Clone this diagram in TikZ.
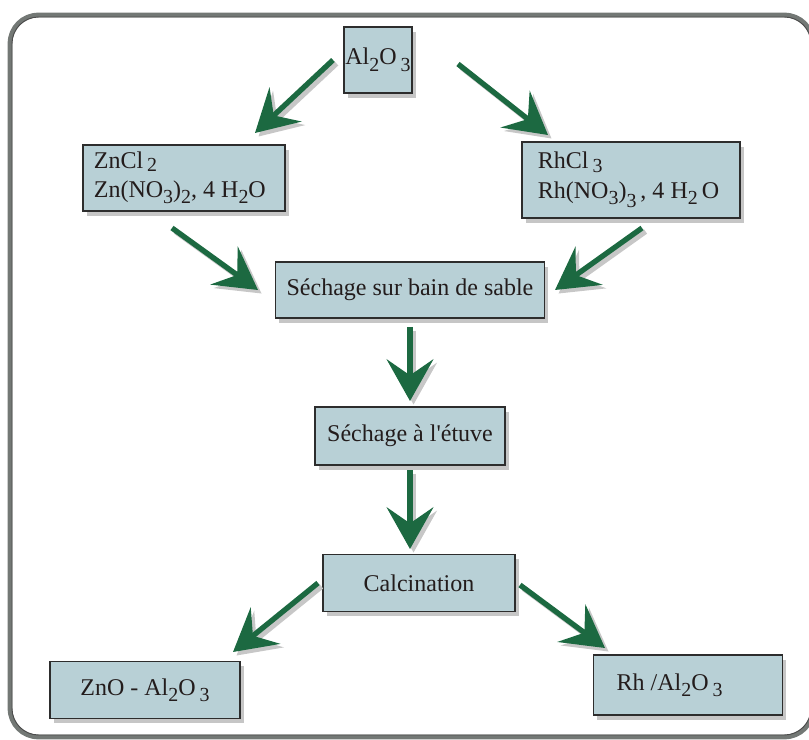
\documentclass[tikz,border=0pt]{standalone}
\usepackage{fontspec}
\setmainfont{Liberation Serif}
\usetikzlibrary{arrows.meta,shadows}
\definecolor{boxfill}{RGB}{184,208,214}
\definecolor{boxline}{RGB}{45,45,45}
\definecolor{arrowgreen}{RGB}{28,105,65}
\definecolor{framegray}{RGB}{115,120,117}
\definecolor{txt}{RGB}{35,28,28}
\newcommand{\chsub}[1]{\raisebox{-0.55ex}{\fontsize{17}{17}\selectfont #1}}
\newcommand{\chsubhi}[1]{\raisebox{-0.3ex}{\fontsize{17}{17}\selectfont #1}}
\begin{document}
\begin{tikzpicture}[x=0.03cm,y=-0.03cm,
  box/.style={draw=boxline, line width=1.6pt, fill=boxfill, text=txt,
    font=\fontsize{20.5}{22.5}\selectfont, inner sep=0pt, align=center,
    drop shadow={shadow xshift=3pt, shadow yshift=-4pt, opacity=0.45}},
  twoline/.style={font=\fontsize{20.5}{25}\selectfont, align=left},
  tip/.style={-{Stealth[length=1.25cm, width=1.4cm, inset=0.48cm]}},
  garrow/.style={tip, line width=0.16cm, draw=arrowgreen},
  gshadow/.style={tip, line width=0.16cm, draw=black!22, transform canvas={xshift=3pt, yshift=-3pt}}]
\useasboundingbox (0,0) rectangle (809,740);
% frame
\draw[line width=4pt, framegray, rounded corners=0.85cm] (10,15) rectangle (813,737);
\draw[line width=0.8pt, black!70, rounded corners=0.8cm] (12,17) rectangle (811,735);

% boxes
\node[box, minimum width=2.04cm, minimum height=1.98cm] (al) at (378,60) {\raisebox{0.2cm}{Al\chsub{2}O\,\chsub{3}}};
\node[box, twoline, minimum width=6.06cm, minimum height=1.98cm] (zn) at (184,178)
  {ZnCl\,\chsubhi{2}\\Zn(NO\chsub{3})\chsub{2}, 4 H\chsub{2}O\hspace*{0.25cm}};
\node[box, twoline, minimum width=6.54cm, minimum height=2.28cm] (rh) at (631,180)
  {RhCl\,\chsubhi{3}\\Rh(NO\chsub{3})\raisebox{-0.3ex}{\chsub{3}}\,, 4 H\chsub{2}\,O\hspace*{0.15cm}};
\node[box, minimum width=8.07cm, minimum height=1.68cm] (bain) at (410,290) {Séchage sur bain de sable};
\node[box, minimum width=5.7cm, minimum height=1.74cm] (etuve) at (410,436) {Séchage à l\textquotesingle étuve};
\node[box, minimum width=5.76cm, minimum height=1.71cm] (calc) at (419,583) {Calcination};
\node[box, minimum width=5.7cm, minimum height=1.71cm] (zno) at (145,690) {ZnO - Al\chsub{2}O\,\chsub{3}};
\node[box, minimum width=5.67cm, minimum height=1.8cm] (rhal) at (688,685)
  {Rh /Al\chsub{2}O\,\chsub{3}\hspace*{1.1cm}};

% arrow end points
\coordinate (a1s) at (333,60);  \coordinate (a1e) at (255,133);
\coordinate (a2s) at (458,64);  \coordinate (a2e) at (548,135);
\coordinate (a3s) at (172,228); \coordinate (a3e) at (258,290);
\coordinate (a4s) at (642,228); \coordinate (a4e) at (555,290);
\coordinate (a5s) at (410,327); \coordinate (a5e) at (410,401);
\coordinate (a6s) at (410,470); \coordinate (a6e) at (410,549);
\coordinate (a7s) at (318,583); \coordinate (a7e) at (233,652);
\coordinate (a8s) at (520,585); \coordinate (a8e) at (605,648);

\foreach \i in {1,...,8} {\draw[gshadow] (a\i s) -- (a\i e);}
\foreach \i in {1,...,8} {\draw[garrow] (a\i s) -- (a\i e);}
\end{tikzpicture}
\end{document}
